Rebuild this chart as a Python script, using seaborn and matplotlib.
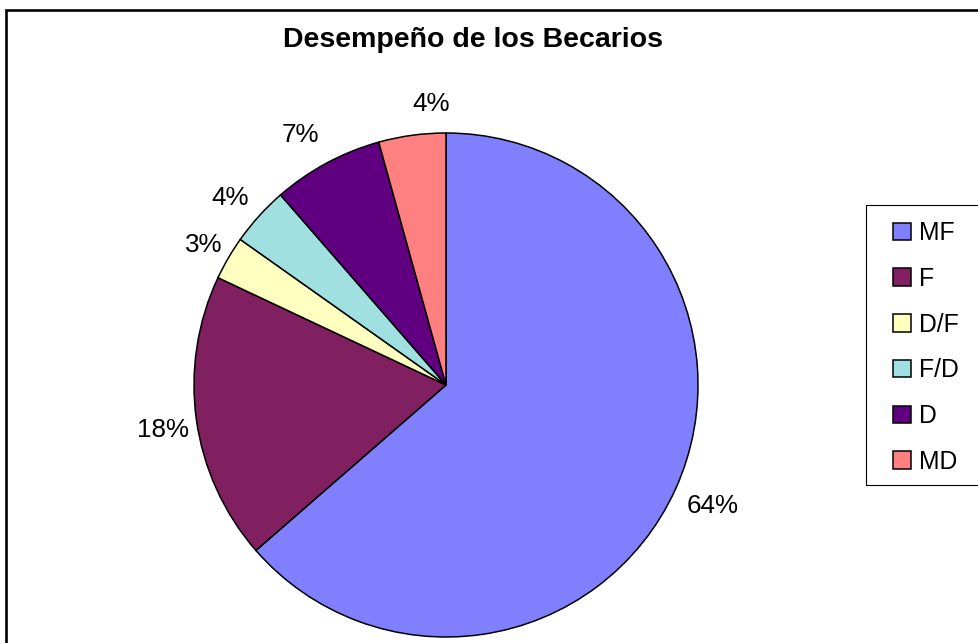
import matplotlib
matplotlib.use("Agg")
import matplotlib.pyplot as plt
from matplotlib.patches import Rectangle
import seaborn as sns

# data
categories = ["MF", "F", "D/F", "F/D", "D", "MD"]
shares = [63.6, 18.4, 2.8, 3.8, 7.1, 4.3]
colors = ["#8080FF", "#802060", "#FFFFC0", "#A0E0E0", "#600080", "#FF8080"]
title = "Desempeño de los Becarios"

# small pixel nudges for the percent labels (x right, y down)
label_nudge = [(7, 3), (-1, 6), (4, 3), (-5, 4), (-11, 1), (23, 1)]

sns.set_theme(style="white")
plt.rcParams["font.family"] = ["Liberation Sans", "DejaVu Sans"]

W, H = 979, 643
fig = plt.figure(figsize=(W / 100, H / 100), dpi=100)
ax = fig.add_axes([0, 0, 1, 1])

# pie in pixel coordinates (y up)
cx, cy, r = 446, H - 385, 252
wedges, texts, autotexts = ax.pie(
    shares, colors=colors, startangle=90, counterclock=False,
    center=(cx, cy), radius=r, frame=True,
    autopct="%1.0f%%", pctdistance=1.13,
    wedgeprops=dict(edgecolor="black", linewidth=1.1),
    textprops=dict(fontsize=18.7, color="black"),
)
for t, (dx, dy) in zip(autotexts, label_nudge):
    x, y = t.get_position()
    t.set_position((x + dx, y - dy))

ax.set_xlim(0, W)
ax.set_ylim(0, H)
ax.set_aspect("equal")
ax.axis("off")

# chart frame
ax.add_patch(Rectangle((6, -20), W + 20, H - 10 + 20, fill=False,
                       edgecolor="black", linewidth=1.9, clip_on=False))

# title
ax.text(473, H - 47, title, ha="center", va="baseline",
        fontsize=20.5, fontweight="bold", color="black")

# legend box
ax.add_patch(Rectangle((866, H - 485), 200, 280, fill=False,
                       edgecolor="black", linewidth=0.8, clip_on=False))
leg = ax.legend(wedges, categories, loc="upper left",
                bbox_to_anchor=(893 / W, (H - 221) / H),
                frameon=False, fontsize=17.8, borderpad=0, borderaxespad=0,
                handlelength=0.72, handleheight=0.72, handletextpad=0.35,
                labelspacing=0.88, labelcolor="black")

fig.savefig("out.png", dpi=100)
